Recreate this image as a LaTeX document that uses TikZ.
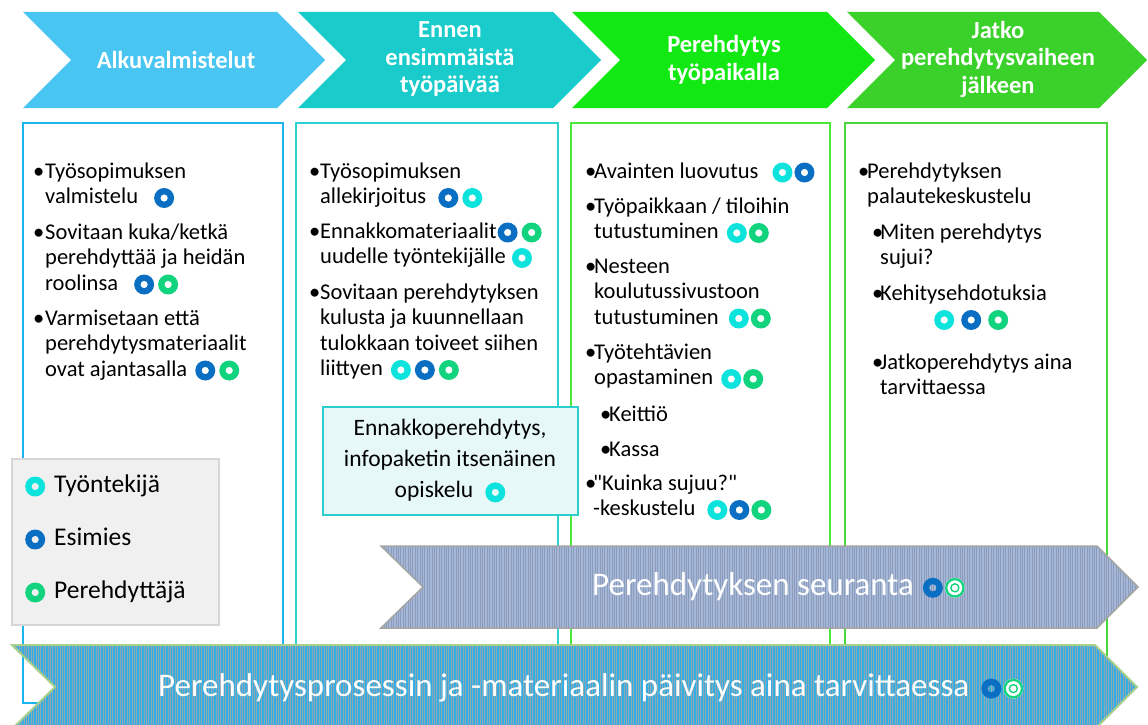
\documentclass[tikz,border=0pt]{standalone}
\usepackage{fontspec}
\setmainfont{Carlito}
\newfontfamily\suora{Carlito}[Ligatures=TeXOff]
\usetikzlibrary{patterns.meta}

\definecolor{chevA}{HTML}{48C5F1}
\definecolor{chevB}{HTML}{19CCCB}
\definecolor{chevC}{HTML}{12E812}
\definecolor{chevD}{HTML}{3BD12B}
\definecolor{colA}{HTML}{1DB4EE}
\definecolor{colB}{HTML}{2AD3D2}
\definecolor{colC}{HTML}{49E83B}
\definecolor{colD}{HTML}{48D63A}
\definecolor{tyocol}{HTML}{0BE3DC}
\definecolor{esicol}{HTML}{0A6FC2}
\definecolor{perecol}{HTML}{12D37E}
\definecolor{legF}{HTML}{F0F0F0}
\definecolor{legD}{HTML}{D6D6D6}
\definecolor{ennF}{HTML}{E6F8F8}
\definecolor{ennD}{HTML}{2CCFCD}
\definecolor{seuF}{HTML}{A5B8DA}
\definecolor{seuL}{HTML}{8B9BB8}
\definecolor{seuD}{HTML}{A5A5A5}
\definecolor{paiF}{HTML}{34AEE2}
\definecolor{paiL}{HTML}{8FA8B5}
\definecolor{paiD}{HTML}{A8D08D}

% rengas tekstin sisaan
\newcommand\pallo[2][5.5pt]{\tikz[baseline={(0pt,-#1)}]\fill[#2,even odd rule] (0pt,0pt) circle[radius=10pt] (0pt,0pt) circle[radius=3.7pt];}
\newcommand\pallob[1][5.5pt]{\tikz[baseline={(0pt,-#1)}]{\fill[white] (0pt,0pt) circle[radius=10pt];
  \draw[perecol,line width=2.3pt] (0pt,0pt) circle[radius=8.7pt];
  \draw[perecol,line width=1.4pt] (0pt,0pt) circle[radius=4pt];}}
\newcommand\kohta[2][11pt]{\makebox[#1][l]{\textbullet}\begin{tabular}[t]{@{}l@{}}#2\end{tabular}}
\newcommand\chev[3]{\fill[#3] (#1,12) -- (#2,12) -- ({#2+48},60) -- (#2,108) -- (#1,108) -- ({#1+48},60) -- cycle;}

\tikzset{
  head/.style={text=white,font=\fontsize{24.5}{27.5}\selectfont\bfseries,align=center,inner sep=0pt},
  col/.style={line width=2pt},
  bul/.style={anchor=base west,inner sep=0pt,font=\fontsize{22.5}{25.5}\selectfont},
  legtxt/.style={anchor=base west,inner sep=0pt,font=\fontsize{25.5}{30}\selectfont},
  arrtxt/.style={anchor=west,inner sep=0pt,text=white,font=\fontsize{33}{36}\selectfont}
}

\begin{document}
\begin{tikzpicture}[x=1pt,y=-1pt]
\clip (0,0) rectangle (1148,725);
% otsikot
\chev{23}{277}{chevA}
\chev{298}{553}{chevB}
\chev{572}{827}{chevC}
\chev{847}{1099}{chevD}
\node[head] (h1) at (176,60) {Alkuvalmistelut};
\node[head] (h2) at (450,59) {Ennen\\ensimmäistä\\työpäivää};
\node[head] (h3) at (724,60) {Perehdytys\\työpaikalla};
\node[head] (h4) at (998,59) {Jatko\\perehdytysvaiheen\\jälkeen};

% sarakkeet
\draw[col,colA] (23,123) rectangle (283,703);
\draw[col,colB] (296,123) rectangle (558,703);
\draw[col,colC] (571,123) rectangle (830,703);
\draw[col,colD] (845,123) rectangle (1107,703);

\node[bul] (a1) at (33,178) {\kohta[12pt]{Työsopimuksen\\valmistelu\hspace{16pt}\pallo{esicol}}};
\node[bul] (a2) at (33,239) {\kohta[12pt]{Sovitaan kuka/ketkä\\perehdyttää ja heidän\\roolinsa\hspace{16pt}\pallo{esicol}\hspace{4pt}\pallo{perecol}}};
\node[bul] (a3) at (33,325) {\kohta[12pt]{Varmisetaan että\\perehdytysmateriaalit\\ovat ajantasalla\hspace{8pt}\pallo{esicol}\hspace{4pt}\pallo{perecol}}};

\node[bul] (b1) at (309,178) {\kohta{Työsopimuksen\\allekirjoitus\hspace{12pt}\pallo{esicol}\hspace{4pt}\pallo{tyocol}}};
\node[bul] (b2) at (309,238) {\kohta{Ennakkomateriaalit\hspace{1pt}\pallo{esicol}\hspace{4pt}\pallo{perecol}\\uudelle työntekijälle\hspace{6pt}\pallo{tyocol}}};
\node[bul] (b3) at (309,299) {\kohta{Sovitaan perehdytyksen\\kulusta ja kuunnellaan\\tulokkaan toiveet siihen\\liittyen\hspace{8pt}\pallo{tyocol}\hspace{4pt}\pallo{esicol}\hspace{4pt}\pallo{perecol}}};

\node[bul] (c1) at (585,178) {\kohta[9pt]{Avainten luovutus\hspace{14pt}\pallo{tyocol}\hspace{2pt}\pallo{esicol}}};
\node[bul] (c2) at (585,213) {\kohta[9pt]{Työpaikkaan / tiloihin\\tutustuminen\hspace{8pt}\pallo{tyocol}\hspace{2pt}\pallo{perecol}}};
\node[bul] (c3) at (585,273) {\kohta[9pt]{Nesteen\\koulutussivustoon\\tutustuminen\hspace{10pt}\pallo{tyocol}\hspace{2pt}\pallo{perecol}}};
\node[bul] (c4) at (585,359) {\kohta[9pt]{Työtehtävien\\opastaminen\hspace{8pt}\pallo{tyocol}\hspace{2pt}\pallo{perecol}}};
\node[bul] (c5) at (600,421) {\kohta[9pt]{Keittiö}};
\node[bul] (c6) at (600,456) {\kohta[9pt]{Kassa}};
\node[bul] (c7) at (585,490) {\kohta[8pt]{{\suora"Kuinka sujuu?"}\\-keskustelu\hspace{12pt}\pallo{tyocol}\hspace{2pt}\pallo{esicol}\hspace{2pt}\pallo{perecol}}};

\node[bul] (d1) at (858,178) {\kohta[9pt]{Perehdytyksen\\palautekeskustelu}};
\node[bul] (d2) at (872,239) {\kohta[8pt]{Miten perehdytys\\sujui?}};
\node[bul] (d3) at (872,300) {\kohta[8pt]{Kehitysehdotuksia\\\hspace{54pt}\pallo{tyocol}\hspace{7pt}\pallo{esicol}\hspace{7pt}\pallo{perecol}}};
\node[bul] (d4) at (872,369) {\kohta[8pt]{Jatkoperehdytys aina\\tarvittaessa}};

% ennakkoperehdytys
\node[draw=ennD,fill=ennF,line width=2pt,minimum width=255pt,minimum height=108pt,align=center,
  font=\fontsize{23.5}{31}\selectfont] (enn) at (450,461)
  {Ennakkoperehdytys,\\infopaketin itsenäinen\\opiskelu\hspace{12pt}\pallo{tyocol}};

% selite
\node[draw=legD,fill=legF,line width=2pt,minimum width=207pt,minimum height=166pt] (leg) at (115,542) {};
\node[legtxt] (l1) at (25,492) {\pallo{tyocol}\hspace{9pt}Työntekijä};
\node[legtxt] (l2) at (25,545) {\pallo{esicol}\hspace{9pt}Esimies};
\node[legtxt] (l3) at (25,598) {\pallo{perecol}\hspace{9pt}Perehdyttäjä};

% seuranta
\path[draw=seuD,line width=1.5pt,preaction={fill=seuF},pattern={Lines[angle=90,distance=2.4pt,line width=0.8pt]},pattern color=seuL]
  (381,546) -- (1097,546) -- (1138,587) -- (1097,628) -- (381,628) -- (423,587) -- cycle;
\node[arrtxt] (seu) at (592,587) {Perehdytyksen seuranta\hspace{9pt}\pallo[8pt]{esicol}\hspace{2pt}\pallob[8pt]};

% paivitys
\path[draw=paiD,line width=2pt,preaction={fill=paiF},pattern={Lines[angle=90,distance=2.4pt,line width=0.9pt]},pattern color=paiL]
  (12,645) -- (1095,645) -- (1137,687) -- (1095,729) -- (12,729) -- (55,687) -- cycle;
\node[arrtxt] (pai) at (158,688) {Perehdytysprosessin ja -materiaalin päivitys aina tarvittaessa\hspace{12pt}\pallo[8pt]{esicol}\hspace{2pt}\pallob[8pt]};
\end{tikzpicture}
\end{document}
